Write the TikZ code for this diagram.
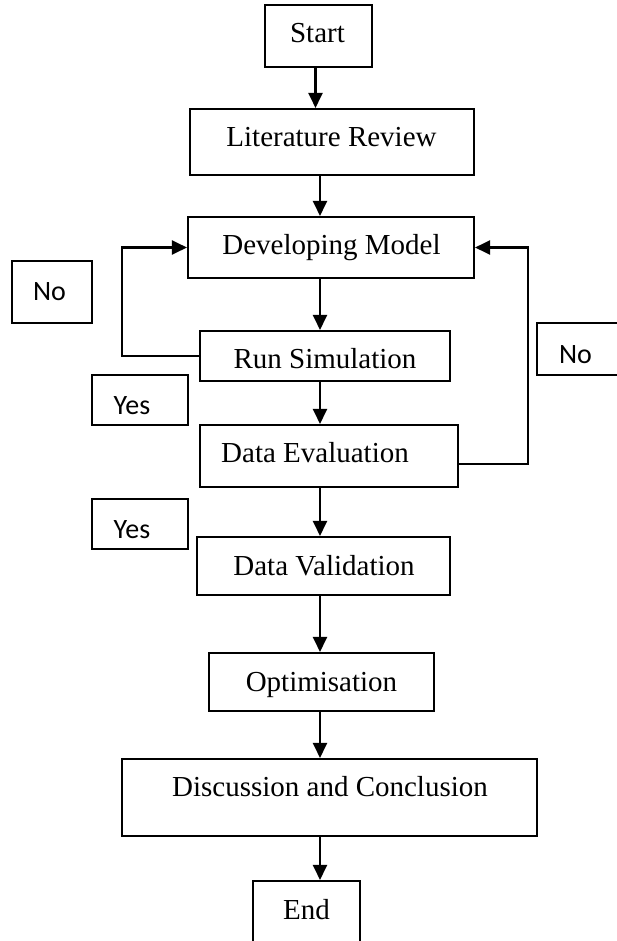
\documentclass[tikz,border=0pt]{standalone}
\usepackage{fontspec}
\setmainfont{Liberation Serif}
\newfontfamily\labelfont{Carlito}
\usetikzlibrary{arrows.meta}
\begin{document}
\begin{tikzpicture}[x=1bp,y=-1bp,
  box/.style={draw, line width=2.1bp, inner sep=0pt},
  steptext/.style={anchor=base, inner sep=0pt, font=\fontsize{29.1}{34}\selectfont},
  lbltext/.style={anchor=base, inner sep=0pt, font=\labelfont\fontsize{28.1}{33}\selectfont},
  arr/.style={line width=2.3bp, -{Triangle[length=15bp,width=14bp]}}
]
\useasboundingbox (0,0) rectangle (617,941);
\clip (0,0) rectangle (617,941);

% process boxes
\node[box, minimum width=107bp, minimum height=62bp] (start) at (318.5,36) {};
\node[box, minimum width=284bp, minimum height=66bp] (lit)   at (332,142) {};
\node[box, minimum width=286bp, minimum height=61bp] (dev)   at (331,247.5) {};
\node[box, minimum width=250bp, minimum height=50bp] (run)   at (325,356) {};
\node[box, minimum width=258bp, minimum height=62bp] (eval)  at (329,456) {};
\node[box, minimum width=253bp, minimum height=58bp] (valid) at (323.5,566) {};
\node[box, minimum width=225bp, minimum height=58bp] (opt)   at (321.5,682) {};
\node[box, minimum width=415bp, minimum height=77bp] (disc)  at (329.5,797.5) {};
\node[box, minimum width=107bp, minimum height=88bp] (fin)   at (306.5,925) {};

% decision label boxes
\node[box, minimum width=80bp,  minimum height=62bp] (noL)  at (52,292) {};
\node[box, minimum width=96bp,  minimum height=50bp] (yesA) at (140,400) {};
\node[box, minimum width=113bp, minimum height=52bp] (noR)  at (593.5,349) {};
\node[box, minimum width=96bp,  minimum height=50bp] (yesB) at (140,524) {};

% texts
\node[steptext] (tstart) at (317.5,42)  {Start};
\node[steptext] (tlit)   at (331.5,146) {Literature Review};
\node[steptext] (tdev)   at (331.5,254) {Developing Model};
\node[steptext] (trun)   at (325,368)   {Run Simulation};
\node[steptext] (teval)  at (315,462)   {Data Evaluation};
\node[steptext] (tvalid) at (324,575)   {Data Validation};
\node[steptext] (topt)   at (321.5,691) {Optimisation};
\node[steptext] (tdisc)  at (330,796)   {Discussion and Conclusion};
\node[steptext] (tfin)   at (306.5,919) {End};

\node[lbltext] (tnoL)  at (49.5,300)  {No};
\node[lbltext] (tyesA) at (132,414)   {Yes};
\node[lbltext] (tnoR)  at (575.5,363) {No};
\node[lbltext] (tyesB) at (132,538)   {Yes};

% connectors
\coordinate (axis) at (320,0);
\coordinate (lx) at (122,0);
\coordinate (rx) at (528,0);

\draw[arr] ([xshift=-3bp]start.south) -- ([xshift=-3bp]start.south |- lit.north);
\draw[arr] (lit.south -| axis)   -- (dev.north -| axis);
\draw[arr] (dev.south -| axis)   -- (run.north -| axis);
\draw[arr] (run.south -| axis)   -- (eval.north -| axis);
\draw[arr] (eval.south -| axis)  -- (valid.north -| axis);
\draw[arr] (valid.south -| axis) -- (opt.north -| axis);
\draw[arr] (opt.south -| axis)   -- (disc.north -| axis);
\draw[arr] (disc.south -| axis)  -- (fin.north -| axis);

% feedback loops
\draw[arr] (run.west) -- (run.west -| lx) |- (dev.west);
\draw[arr] ([yshift=-8bp]eval.east) -- ([yshift=-8bp]eval.east -| rx) |- (dev.east);
\end{tikzpicture}
\end{document}
